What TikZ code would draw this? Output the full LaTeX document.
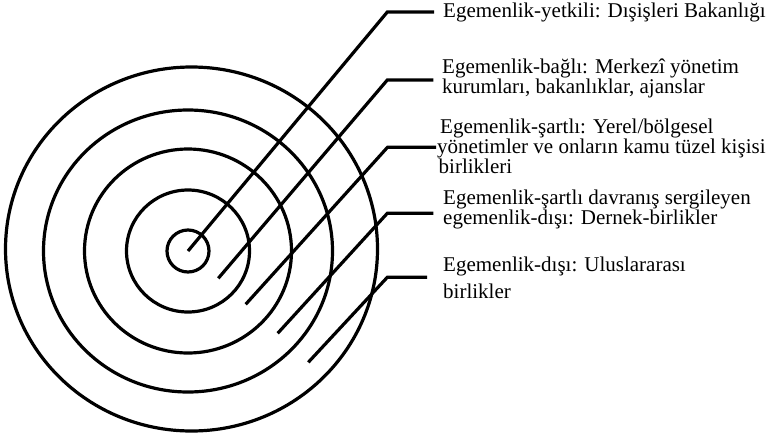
\documentclass[tikz,border=0pt]{standalone}
\usepackage{fontspec}
\setmainfont{Liberation Serif}
\begin{document}
\begin{tikzpicture}[x=1pt,y=-1pt,
  ring/.style={line width=3.2pt},
  leader/.style={line width=3.2pt,line join=miter},
  lbl/.style={anchor=base west,inner sep=0pt,font=\fontsize{21}{23}\selectfont}]
\useasboundingbox (0,0) rectangle (769,440);
% rings
\coordinate (c) at (188,251);
\coordinate (co) at (191.5,249);
\draw[ring] (c) ellipse [x radius=21pt, y radius=21pt];
\draw[ring] (c) ellipse [x radius=61.5pt, y radius=61pt];
\draw[ring] (c) ellipse [x radius=103.5pt, y radius=102pt];
\draw[ring] (c) ellipse [x radius=144.5pt, y radius=141pt];
\draw[ring] (co) ellipse [x radius=186pt, y radius=182pt];
% labels
\node[lbl] (t1) at (443,17.3) {Egemenlik-yetkili: Dışişleri Bakanlığı};
\node[lbl] (t2a) at (442,73.3) {Egemenlik-bağlı: Merkezî yönetim};
\node[lbl] (t2b) at (442,93.5) {kurumları, bakanlıklar, ajanslar};
\node[lbl] (t3a) at (440,133) {Egemenlik-şartlı: Yerel/bölgesel};
\node[lbl] (t3b) at (437,153) {yönetimler ve onların kamu tüzel kişisi};
\node[lbl] (t3c) at (438.5,173.3) {birlikleri};
\node[lbl] (t4a) at (443,204) {Egemenlik-şartlı davranış sergileyen};
\node[lbl] (t4b) at (443,224.2) {egemenlik-dışı: Dernek-birlikler};
\node[lbl] (t5a) at (443,271.7) {Egemenlik-dışı: Uluslararası};
\node[lbl] (t5b) at (443,298.3) {birlikler};
% leader points
\coordinate (s1) at (188,251);   \coordinate (k1) at (387.3,12);    \coordinate (e1) at (434,12);
\coordinate (s2) at (218.3,278.3); \coordinate (k2) at (387.3,80);  \coordinate (e2) at (433.3,80);
\coordinate (s3) at (245.7,304.3); \coordinate (k3) at (387.5,147.3); \coordinate (e3) at (436,147.3);
\coordinate (s4) at (277.7,333.3); \coordinate (k4) at (387.3,213.3); \coordinate (e4) at (433.3,213.3);
\coordinate (s5) at (308.3,362.3); \coordinate (k5) at (387.3,277.3); \coordinate (e5) at (427,277.3);
\draw[leader] (s1) -- (k1) -- (e1);
\draw[leader] (s2) -- (k2) -- (e2);
\draw[leader] (s3) -- (k3) -- (e3);
\draw[leader] (s4) -- (k4) -- (e4);
\draw[leader] (s5) -- (k5) -- (e5);
\end{tikzpicture}
\end{document}
